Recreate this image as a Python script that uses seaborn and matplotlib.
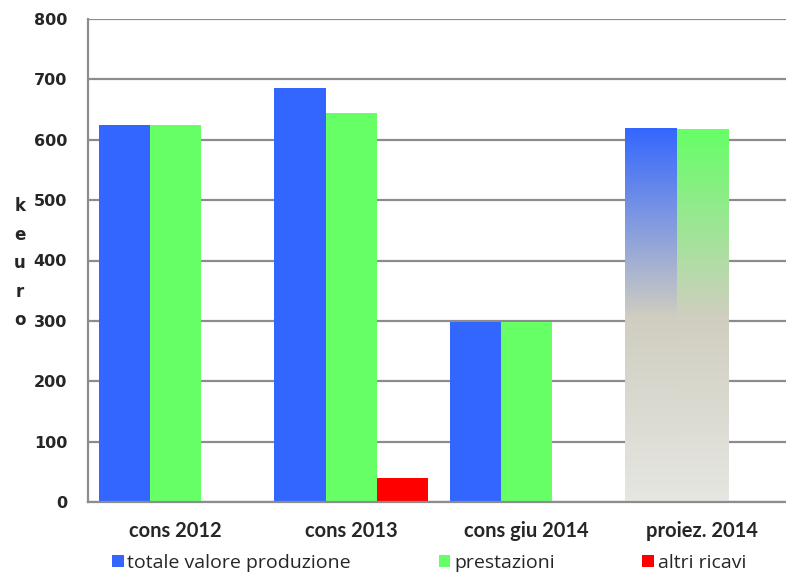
import numpy as np
import pandas as pd
import seaborn as sns
import matplotlib.pyplot as plt
from matplotlib.colors import to_rgb

# Data
categories = ["cons 2012", "cons 2013", "cons giu 2014", "proiez. 2014"]
series = ["totale valore produzione", "prestazioni", "altri ricavi"]
totale = [625, 686, 298, 620]
prestazioni = [624, 644, 298, 618]
altri_ricavi = [0, 40, 0, 0]
colors = ["#3366ff", "#66ff66", "#ff0000"]

df = pd.DataFrame({
    "categoria": categories * 3,
    "serie": [series[0]] * 4 + [series[1]] * 4 + [series[2]] * 4,
    "valore": totale + prestazioni + altri_ricavi,
})

sns.set_style("white")
plt.rcParams['font.family'] = ['DejaVu Sans']

fig = plt.figure(figsize=(7.86, 5.73), dpi=100)
ax = fig.add_axes([88 / 786, 71 / 573, 702 / 786, 483 / 573])

sns.barplot(data=df, x="categoria", y="valore", hue="serie", palette=colors,
            width=0.88, saturation=1, linewidth=0, ax=ax, legend=True)

ax.set_xlim(-0.5, 3.5)
ax.set_ylim(0, 800)
ax.set_yticks(range(0, 801, 100))
ax.yaxis.grid(True, color="#8c8c8c", linewidth=1.6)
ax.set_axisbelow(True)
for s in ["top", "right"]:
    ax.spines[s].set_visible(False)
for s in ["left", "bottom"]:
    ax.spines[s].set_color("#8c8c8c")
    ax.spines[s].set_linewidth(1.6)

# category boundary ticks on x, labels centered
ax.set_xticks([-0.5, 0.5, 1.5, 2.5, 3.5])
ax.set_xticklabels([])
ax.set_xticks(range(4), minor=True)
ax.set_xticklabels(categories, minor=True, fontsize=14.5, fontweight="bold",
                   family="Lato")
ax.tick_params(axis="x", which="minor", length=0, pad=14)
ax.tick_params(axis="x", which="major", length=6, width=1.6, color="#8c8c8c",
               direction="out")
ax.tick_params(axis="y", length=5, width=1.6, color="#8c8c8c", direction="out",
               pad=10, labelsize=11.5)
for t in ax.get_yticklabels():
    t.set_fontweight("bold")
ax.set_xlabel("")
ax.set_ylabel("")

fig.text(20 / 786, 1 - 263 / 573, "k\ne\nu\nr\no", ha="center", va="center",
         fontsize=12, fontweight="bold", linespacing=1.75)

# gradient fill for the projection bars
grey_mid = np.array(to_rgb("#d0cec0"))
grey_low = np.array(to_rgb("#e6e6e2"))
for p in list(ax.patches):
    xc = p.get_x() + p.get_width() / 2
    h = p.get_height()
    if xc < 2.5 or h <= 0:
        continue
    top = np.array(to_rgb(p.get_facecolor()))
    vals = np.linspace(0, h, 300)
    split = 305
    img = np.zeros((300, 1, 3))
    for i, v in enumerate(vals):
        if v >= split:
            f = (v - split) / (h - split)
            img[i, 0] = grey_mid + (top - grey_mid) * f
        else:
            f = v / split
            img[i, 0] = grey_low + (grey_mid - grey_low) * f
    im = ax.imshow(img, origin="lower", aspect="auto", zorder=p.get_zorder(),
                   extent=[p.get_x(), p.get_x() + p.get_width(), 0, h])
    im.set_clip_path(p)
    p.set_facecolor("none")
ax.set_xlim(-0.5, 3.5)
ax.set_ylim(0, 800)

handles, labels = ax.get_legend_handles_labels()
ax.get_legend().remove()
fig.legend(handles, labels, loc="center", bbox_to_anchor=(429 / 786, 1 - 563 / 573),
           ncol=3, frameon=False, handlelength=0.6, handleheight=0.6,
           handletextpad=0.2, columnspacing=4.5,
           prop={"family": "Open Sans", "size": 14})

fig.savefig("out.png", dpi=100)
